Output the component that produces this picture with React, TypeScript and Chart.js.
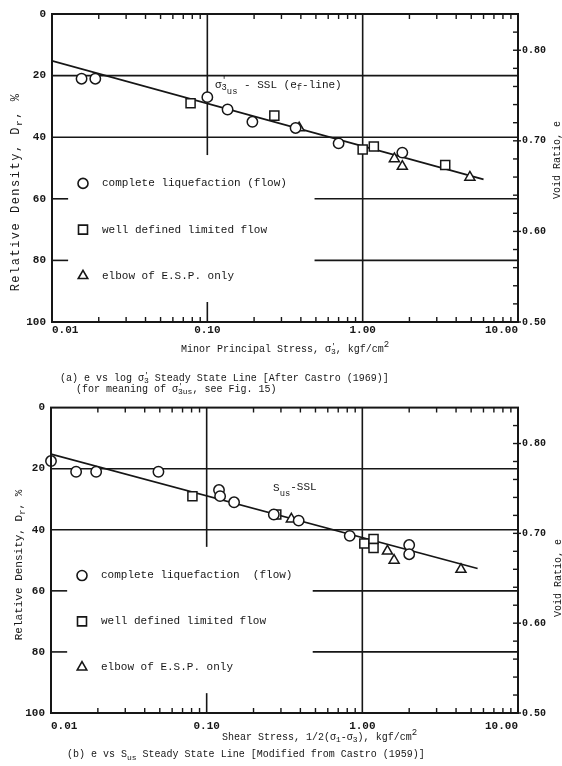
import React, { useEffect, useRef } from "react";
import { Chart, registerables } from "chart.js";
Chart.register(...registerables);

// ---------- Panel (a): e vs log sigma'3 ----------
const aCircleX = [0.0155, 0.019, 0.10, 0.135, 0.195, 0.37, 0.70, 1.8];
const aCircleY = [21, 21, 27, 31, 35, 37, 42, 45];
const aSquareX = [0.078, 0.27, 1.0, 1.18, 3.4];
const aSquareY = [29, 33, 44, 43, 49];
const aTriangleX = [0.39, 1.6, 1.8, 4.9];
const aTriangleY = [37, 47, 49.5, 53];
const aLineX = [0.01, 6.0];
const aLineY = [15.2, 53.7];

// ---------- Panel (b): e vs S_us ----------
const bCircleX = [0.01, 0.0145, 0.0195, 0.049, 0.12, 0.122, 0.15, 0.27, 0.39, 0.83, 2.0, 2.0];
const bCircleY = [17.5, 21, 21, 21, 27, 29, 31, 35, 37, 42, 45, 48];
const bSquareX = [0.081, 0.28, 1.03, 1.18, 1.18];
const bSquareY = [29, 35, 44.5, 43, 46];
const bTriangleX = [0.35, 1.45, 1.6, 4.3];
const bTriangleY = [36.5, 47, 50, 53];
const bLineX = [0.01, 5.5];
const bLineY = [15.2, 52.7];

// ---------- Axes ----------
const xTickValues = [0.01, 0.1, 1, 10];
const xTickLabels = ["0.01", "0.10", "1.00", "10.00"];
const yTickValues = [0, 20, 40, 60, 80, 100];
const yTickLabels = ["0", "20", "40", "60", "80", "100"];
const eTickValues = [0.5, 0.6, 0.7, 0.8];
const eTickLabels = ["0.50", "0.60", "0.70", "0.80"];

// grid segments: [Dr, xFrom, xTo] and [x, DrFrom, DrTo]
const aHGrid = [[20, 0.01, 10], [40, 0.01, 10], [60, 0.01, 0.0127], [60, 0.49, 10], [80, 0.01, 0.0127], [80, 0.49, 10]];
const aVGrid = [[0.1, 0, 45.8], [0.1, 93.5, 100], [1, 0, 100]];
const bHGrid = [[20, 0.01, 10], [40, 0.01, 10], [60, 0.01, 0.0127], [60, 0.48, 10], [80, 0.01, 0.0127], [80, 0.48, 10]];
const bVGrid = [[0.1, 0, 45.6], [0.1, 93.5, 100], [1, 0, 100]];

const legendDr = [55, 70, 85];
const legendStyles = ["circle", "rect", "triangle"];
const aLegendText = ["complete liquefaction (flow)", "well defined limited flow", "elbow of E.S.P. only"];
const bLegendText = ["complete liquefaction  (flow)", "well defined limited flow", "elbow of E.S.P. only"];

const INK = "#161616";
const FONT = "'Liberation Mono', 'DejaVu Sans Mono', monospace";

type Seg = { t: string; dy?: number; s?: number; stay?: boolean };

function drawRich(ctx: CanvasRenderingContext2D, segs: Seg[], x: number, y: number, size: number, align: string, weight = "normal") {
  const setF = (sg: Seg) => { ctx.font = `${weight} ${size * (sg.s || 1)}px ${FONT}`; };
  let total = 0;
  segs.forEach((sg) => { setF(sg); if (!sg.stay) total += ctx.measureText(sg.t).width; });
  let cx = align === "center" ? x - total / 2 : align === "right" ? x - total : x;
  ctx.textAlign = "left";
  ctx.textBaseline = "middle";
  ctx.fillStyle = INK;
  segs.forEach((sg) => {
    setF(sg);
    const w = ctx.measureText(sg.t).width;
    ctx.fillText(sg.t, cx, y + (sg.dy || 0) * size);
    if (!sg.stay) cx += w;
  });
}

function drawMarker(ctx: CanvasRenderingContext2D, style: string, x: number, y: number) {
  ctx.beginPath();
  if (style === "circle") ctx.arc(x, y, 5, 0, Math.PI * 2);
  else if (style === "rect") ctx.rect(x - 4.5, y - 4.5, 9, 9);
  else {
    const r = 5.5;
    ctx.moveTo(x, y - r);
    ctx.lineTo(x + r * 0.866, y + r * 0.5);
    ctx.lineTo(x - r * 0.866, y + r * 0.5);
    ctx.closePath();
  }
  ctx.fillStyle = "#fff";
  ctx.fill();
  ctx.stroke();
}

type Panel = {
  cx: number[]; cy: number[]; sx: number[]; sy: number[]; tx: number[]; ty: number[]; lx: number[]; ly: number[];
  hGrid: number[][]; vGrid: number[][]; legendText: string[];
  top: number; left: number; xh: number; xpad: number;
  annot: { x: number; y: number; segs: Seg[] };
  leftTitle: { x: number; y: number; size: number; spacing: number };
  rightTitle: { x: number; y: number };
  xTitle: { x: number; y: number; align: string; segs: Seg[] };
  captions: { x: number; y: number; segs: Seg[] }[];
};

function makePlugin(p: Panel) {
  return {
    id: "deco",
    beforeDatasetsDraw(chart: any) {
      const { ctx, scales } = chart;
      const x = scales.x, y = scales.y;
      ctx.save();
      ctx.strokeStyle = INK;
      ctx.lineWidth = 1.6;
      p.hGrid.forEach(([dv, x0, x1]) => {
        const py = y.getPixelForValue(dv);
        ctx.beginPath();
        ctx.moveTo(x.getPixelForValue(x0), py);
        ctx.lineTo(x.getPixelForValue(x1), py);
        ctx.stroke();
      });
      p.vGrid.forEach(([xv, d0, d1]) => {
        const px = x.getPixelForValue(xv);
        ctx.beginPath();
        ctx.moveTo(px, y.getPixelForValue(d0));
        ctx.lineTo(px, y.getPixelForValue(d1));
        ctx.stroke();
      });
      ctx.restore();
    },
    afterDraw(chart: any) {
      const { ctx, chartArea: ca, scales } = chart;
      const x = scales.x, y = scales.y, e = scales.e;
      ctx.save();
      ctx.strokeStyle = INK;
      // frame
      ctx.lineWidth = 2;
      ctx.strokeRect(ca.left, ca.top, ca.right - ca.left, ca.bottom - ca.top);
      // log minor ticks top & bottom
      ctx.lineWidth = 1.4;
      for (let i = 0; i < xTickValues.length - 1; i++) {
        for (let m = 2; m <= 9; m++) {
          const px = x.getPixelForValue(m * xTickValues[i]);
          ctx.beginPath();
          ctx.moveTo(px, ca.top);
          ctx.lineTo(px, ca.top + 5);
          ctx.moveTo(px, ca.bottom);
          ctx.lineTo(px, ca.bottom - 5);
          ctx.stroke();
        }
      }
      // right axis ticks (inward minor, outward at labelled values)
      for (let k = 26; k <= 41; k++) {
        const py = e.getPixelForValue(k / 50);
        ctx.beginPath();
        ctx.moveTo(ca.right, py);
        ctx.lineTo(ca.right - 5, py);
        ctx.stroke();
      }
      eTickValues.forEach((v) => {
        const py = e.getPixelForValue(v);
        ctx.beginPath();
        ctx.moveTo(ca.right, py);
        ctx.lineTo(ca.right + 3, py);
        ctx.stroke();
      });
      // legend
      ctx.lineWidth = 1.6;
      legendDr.forEach((dv, i) => {
        const py = y.getPixelForValue(dv);
        drawMarker(ctx, legendStyles[i], ca.left + 31, py);
        drawRich(ctx, [{ t: p.legendText[i] }], ca.left + 50, py, 11, "left");
      });
      // annotation
      drawRich(ctx, p.annot.segs, x.getPixelForValue(p.annot.x), y.getPixelForValue(p.annot.y), 11, "left");
      // left title
      ctx.save();
      ctx.translate(p.leftTitle.x, p.leftTitle.y);
      ctx.rotate(-Math.PI / 2);
      (ctx as any).letterSpacing = p.leftTitle.spacing + "px";
      drawRich(ctx, [{ t: "Relative Density, D" }, { t: "r", dy: 0.3, s: 0.8 }, { t: ", %" }], 0, 0, p.leftTitle.size, "center");
      (ctx as any).letterSpacing = "0px";
      ctx.restore();
      // right title
      ctx.save();
      ctx.translate(p.rightTitle.x, p.rightTitle.y);
      ctx.rotate(-Math.PI / 2);
      drawRich(ctx, [{ t: "Void Ratio, e" }], 0, 0, 10, "center");
      ctx.restore();
      // x title and captions
      drawRich(ctx, p.xTitle.segs, p.xTitle.x, p.xTitle.y, 10, p.xTitle.align);
      p.captions.forEach((c) => drawRich(ctx, c.segs, c.x, c.y, 10, "left"));
      ctx.restore();
    },
  };
}

const zip = (xs: number[], ys: number[]) => xs.map((v, i) => ({ x: v, y: ys[i] }));

function buildConfig(p: Panel, width: number) {
  const marker = (style: string, r: number, xs: number[], ys: number[]) => ({
    type: "scatter",
    data: zip(xs, ys),
    pointStyle: style,
    pointRadius: r,
    borderColor: INK,
    backgroundColor: "#fff",
    borderWidth: 1.5,
    clip: false,
  });
  const tickFont = { family: FONT, size: 11, weight: "bold" as const };
  const noGrid = { display: false, drawTicks: false, tickLength: 0 };
  return {
    type: "scatter",
    data: {
      datasets: [
        marker("circle", 5.2, p.cx, p.cy),
        marker("rect", 6.4, p.sx, p.sy),
        marker("triangle", 5.8, p.tx, p.ty),
        {
          type: "line",
          data: zip(p.lx, p.ly),
          borderColor: INK,
          borderWidth: 1.7,
          pointRadius: 0,
          fill: false,
        },
      ],
    },
    options: {
      responsive: false,
      animation: false,
      events: [],
      layout: { padding: { top: p.top, left: 0, right: 0, bottom: 0 } },
      plugins: { legend: { display: false }, tooltip: { enabled: false } },
      scales: {
        x: {
          type: "logarithmic",
          position: "bottom",
          min: 0.01,
          max: 10,
          grid: noGrid,
          border: { display: false },
          afterBuildTicks: (s: any) => { s.ticks = xTickValues.map((v) => ({ value: v })); },
          afterFit: (s: any) => { s.height = p.xh; },
          ticks: {
            autoSkip: false,
            maxRotation: 0,
            align: "inner",
            padding: p.xpad,
            color: INK,
            font: tickFont,
            callback: (_v: any, i: number) => xTickLabels[i],
          },
        },
        y: {
          type: "linear",
          position: "left",
          reverse: true,
          min: 0,
          max: 100,
          grid: noGrid,
          border: { display: false },
          afterBuildTicks: (s: any) => { s.ticks = yTickValues.map((v) => ({ value: v })); },
          afterFit: (s: any) => { s.width = p.left; },
          ticks: { padding: 6, color: INK, font: tickFont, callback: (_v: any, i: number) => yTickLabels[i] },
        },
        e: {
          type: "linear",
          position: "right",
          min: 0.5,
          max: 0.84,
          grid: noGrid,
          border: { display: false },
          afterBuildTicks: (s: any) => { s.ticks = eTickValues.map((v) => ({ value: v })); },
          afterFit: (s: any) => { s.width = width - 518; },
          ticks: { padding: 4, color: INK, font: { family: FONT, size: 10, weight: "bold" as const }, callback: (_v: any, i: number) => eTickLabels[i] },
        },
      },
    },
    plugins: [makePlugin(p)],
  };
}

const panelA: Panel = {
  cx: aCircleX, cy: aCircleY, sx: aSquareX, sy: aSquareY, tx: aTriangleX, ty: aTriangleY, lx: aLineX, ly: aLineY,
  hGrid: aHGrid, vGrid: aVGrid, legendText: aLegendText,
  top: 14, left: 52, xh: 73, xpad: 2,
  annot: {
    x: 0.112, y: 23,
    segs: [{ t: "σ" }, { t: "'", dy: -0.35, s: 0.8, stay: true }, { t: "3", dy: 0.3, s: 0.8 }, { t: "us", dy: 0.6, s: 0.8 }, { t: " - SSL (e" }, { t: "f", dy: 0.3, s: 0.8 }, { t: "-line)" }],
  },
  leftTitle: { x: 16, y: 192, size: 12, spacing: 1.5 },
  rightTitle: { x: 557, y: 160 },
  xTitle: {
    x: 285, y: 349, align: "center",
    segs: [{ t: "Minor Principal Stress, σ" }, { t: "'", dy: -0.35, s: 0.8, stay: true }, { t: "3", dy: 0.3, s: 0.8 }, { t: ", kgf/cm" }, { t: "2", dy: -0.4, s: 0.9 }],
  },
  captions: [
    { x: 60, y: 378, segs: [{ t: "(a) e vs log σ" }, { t: "'", dy: -0.35, s: 0.8, stay: true }, { t: "3", dy: 0.3, s: 0.8 }, { t: " Steady State Line [After Castro (1969)]" }] },
    { x: 76, y: 389, segs: [{ t: "(for meaning of σ" }, { t: "'", dy: -0.35, s: 0.8, stay: true }, { t: "3us", dy: 0.3, s: 0.8 }, { t: ", see Fig. 15)" }] },
  ],
};

const panelB: Panel = {
  cx: bCircleX, cy: bCircleY, sx: bSquareX, sy: bSquareY, tx: bTriangleX, ty: bTriangleY, lx: bLineX, ly: bLineY,
  hGrid: bHGrid, vGrid: bVGrid, legendText: bLegendText,
  top: 9, left: 51, xh: 53, xpad: 7,
  annot: {
    x: 0.267, y: 26.5,
    segs: [{ t: "S" }, { t: "us", dy: 0.45, s: 0.8 }, { t: "-SSL", dy: -0.1 }],
  },
  leftTitle: { x: 19, y: 170, size: 11, spacing: 0 },
  rightTitle: { x: 558, y: 183 },
  xTitle: {
    x: 222, y: 342, align: "left",
    segs: [{ t: "Shear Stress, 1/2(σ" }, { t: "1", dy: 0.3, s: 0.8 }, { t: "-σ" }, { t: "3", dy: 0.3, s: 0.8 }, { t: "), kgf/cm" }, { t: "2", dy: -0.4, s: 0.9 }],
  },
  captions: [
    { x: 67, y: 359, segs: [{ t: "(b) e vs S" }, { t: "us", dy: 0.35, s: 0.8 }, { t: " Steady State Line [Modified from Castro (1959)]" }] },
  ],
};

function ChartCanvas({ panel, top, height }: { panel: Panel; top: number; height: number }) {
  const ref = useRef<HTMLCanvasElement | null>(null);
  useEffect(() => {
    if (!ref.current) return;
    const chart = new Chart(ref.current, buildConfig(panel, 562) as any);
    return () => chart.destroy();
  }, [panel]);
  return (
    <canvas
      ref={ref}
      width={562}
      height={height}
      style={{ position: "absolute", left: 0, top, width: 562, height }}
    />
  );
}

export default function App() {
  return (
    <div style={{ position: "absolute", left: 0, top: 0, width: 562, height: 766, background: "#fff", overflow: "hidden" }}>
      <ChartCanvas panel={panelA} top={0} height={395} />
      <ChartCanvas panel={panelB} top={395} height={371} />
    </div>
  );
}
